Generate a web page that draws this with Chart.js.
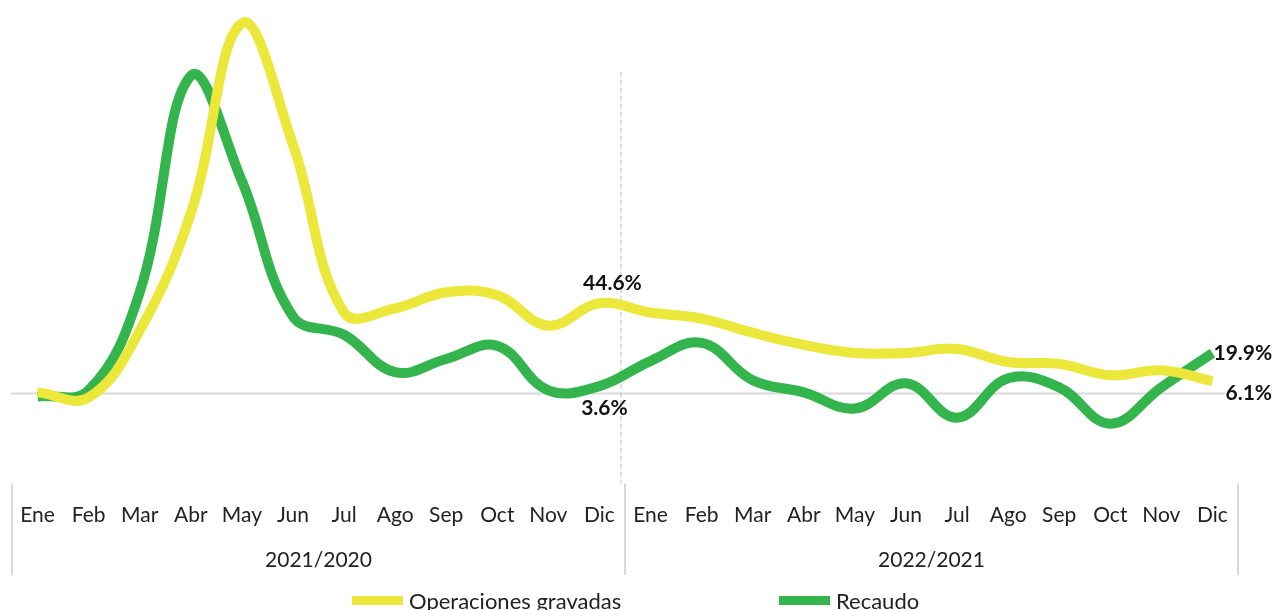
<!DOCTYPE html>
<html>
<head>
<meta charset="utf-8">
<script src="https://cdn.jsdelivr.net/npm/chart.js@4.4.1/dist/chart.umd.min.js"></script>
<style>
  html, body { margin: 0; padding: 0; background: #fff; overflow: hidden; }
  #wrap { position: relative; width: 1276px; height: 610px; }
  #legend { position: absolute; left: 0; top: 586px; width: 1276px; height: 30px; font-family: Lato, sans-serif; font-size: 22px; color: #222; }
  .item { position: absolute; top: 0; display: flex; align-items: center; height: 28px; white-space: nowrap; }
  .box { width: 51px; height: 9px; margin-right: 6px; }
</style>
</head>
<body>
<div id="wrap">
  <canvas id="c" width="1276" height="610"></canvas>
  <div id="legend"></div>
</div>
<script>
const months = ['Ene','Feb','Mar','Abr','May','Jun','Jul','Ago','Sep','Oct','Nov','Dic',
                'Ene','Feb','Mar','Abr','May','Jun','Jul','Ago','Sep','Oct','Nov','Dic'];
const periods = ['2021/2020','2022/2021'];
const seriesNames = ['Operaciones gravadas','Recaudo'];
const operaciones = [0.5, -2, 31, 89, 183, 123, 40, 42, 50, 48.5, 33.5, 44.6,
                     40, 37, 30, 24, 20, 20, 22, 15.5, 14.6, 9, 11.4, 6.1];
const recaudo = [-1.5, 1.5, 50, 157, 105, 38, 29, 10.5, 17, 23.5, 1.5, 3.6,
                 16, 25, 6.5, 0.5, -7.5, 5, -12, 7.5, 3, -15, 3, 19.9];
// indices of points that carry a value label
const labelled = [[0, 11], [1, 11], [0, 23], [1, 23]];

const YELLOW = '#ECE73B';
const GREEN = '#34B44C';
const FONT = 'Lato, sans-serif';

const decor = {
  id: 'decor',
  beforeDatasetsDraw(chart) {
    const {ctx, chartArea, scales} = chart;
    const y0 = scales.y.getPixelForValue(0);
    ctx.save();
    ctx.strokeStyle = '#d9d9d9';
    ctx.lineWidth = 2;
    ctx.beginPath();
    ctx.moveTo(chartArea.left - 1, y0);
    ctx.lineTo(chartArea.right - 13, y0);
    ctx.stroke();
    // dashed divider between the two periods
    const mid = (scales.x.getPixelForValue(11) + scales.x.getPixelForValue(12)) / 2;
    ctx.setLineDash([5, 3]);
    ctx.lineWidth = 1;
    ctx.strokeStyle = '#bfbfbf';
    ctx.beginPath();
    ctx.moveTo(mid - 4, 72);
    ctx.lineTo(mid - 4, chartArea.bottom);
    ctx.stroke();
    ctx.restore();
  },
  afterDraw(chart) {
    const {ctx, chartArea, scales} = chart;
    const mid = (scales.x.getPixelForValue(11) + scales.x.getPixelForValue(12)) / 2;
    ctx.save();
    ctx.strokeStyle = '#d9d9d9';
    ctx.lineWidth = 2;
    [chartArea.left, mid, chartArea.right].forEach(px => {
      ctx.beginPath();
      ctx.moveTo(px, chartArea.bottom);
      ctx.lineTo(px, scales.x2.bottom + 2);
      ctx.stroke();
    });
    // value labels
    ctx.fillStyle = '#111';
    ctx.font = 'bold 21px ' + FONT;
    ctx.textBaseline = 'middle';
    const offs = {'0-11': [13, -20, 'center'], '1-11': [5, 22, 'center'],
                  '0-23': [13, 12, 'left'], '1-23': [1, 0, 'left']};
    labelled.forEach(([d, i]) => {
      const pt = chart.getDatasetMeta(d).data[i];
      const v = chart.data.datasets[d].data[i];
      const o = offs[d + '-' + i];
      ctx.textAlign = o[2];
      ctx.fillText(v.toFixed(1) + '%', pt.x + o[0], pt.y + o[1]);
    });
    ctx.restore();
  }
};

new Chart(document.getElementById('c'), {
  type: 'line',
  data: {
    labels: months,
    datasets: [
      { label: seriesNames[0], data: operaciones, borderColor: YELLOW, backgroundColor: YELLOW,
        borderWidth: 10, pointRadius: 0, tension: 0.4, fill: false },
      { label: seriesNames[1], data: recaudo, borderColor: GREEN, backgroundColor: GREEN,
        borderWidth: 10, pointRadius: 0, tension: 0.4, fill: false }
    ]
  },
  options: {
    responsive: false,
    animation: false,
    layout: { padding: { left: 12, right: 38, top: 0, bottom: 37 } },
    plugins: { legend: { display: false }, tooltip: { enabled: false } },
    scales: {
      y: { display: false, min: -44.6, max: 194.5 },
      x: {
        offset: true,
        grid: { display: false, drawTicks: false },
        border: { display: false },
        ticks: { font: { family: FONT, size: 21 }, color: '#222', padding: 19.5, maxRotation: 0, autoSkip: false }
      },
      x2: {
        type: 'category',
        position: 'bottom',
        labels: periods,
        offset: true,
        grid: { display: false, drawTicks: false },
        border: { display: false },
        ticks: { font: { family: FONT, size: 21 }, color: '#222', padding: 0, maxRotation: 0 }
      }
    }
  },
  plugins: [decor]
});

// legend as HTML text
const legend = document.getElementById('legend');
const legendLeft = [352, 779];
[YELLOW, GREEN].forEach((c, k) => {
  const it = document.createElement('div');
  it.className = 'item';
  it.style.left = legendLeft[k] + 'px';
  it.innerHTML = '<span class="box" style="background:' + c + '"></span><span>' + seriesNames[k] + '</span>';
  legend.appendChild(it);
});
</script>
</body>
</html>
